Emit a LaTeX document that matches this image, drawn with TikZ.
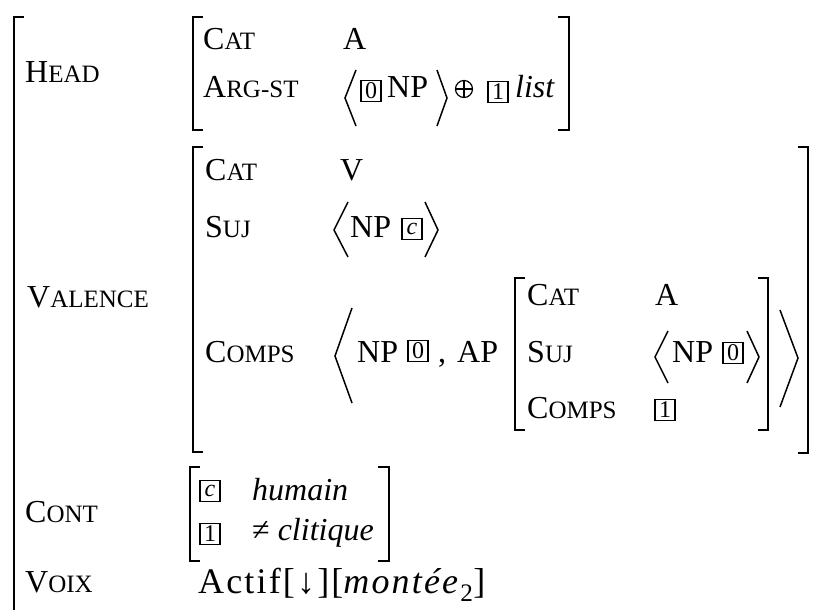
\documentclass[tikz,border=0pt]{standalone}
\usepackage{fontspec}
\setmainfont{Liberation Serif}
\newcommand\fsc[2]{#1{\fontsize{25}{25}\selectfont #2}}
\begin{document}
\begin{tikzpicture}[x=1pt,y=-1pt,
  brk/.style={line width=2.4pt},
  ang/.style={line width=1.5pt},
  lbl/.style={anchor=base west,inner sep=0pt,font=\fontsize{32}{32}\selectfont},
  tag/.style={draw,line width=1.3pt,inner sep=0pt,minimum width=20pt,minimum height=21pt,font=\fontsize{24}{24}\selectfont}]
\useasboundingbox[fill=white] (0,0) rectangle (819,610);
% outer bracket
\draw[brk] (24,17) -- (14,17) -- (14,612);
% HEAD
\node[lbl] (head) at (25,82) {\fsc{H}{EAD}};
\draw[brk] (203,17)--(193,17)--(193,130)--(203,130);
\draw[brk] (558,17)--(569,17)--(569,130)--(558,130);
\node[lbl] (hcat) at (203,50) {\fsc{C}{AT}};
\node[lbl] (hcatv) at (343,50) {A};
\node[lbl] (harg) at (203,97) {\fsc{A}{RG-ST}};
\draw[ang] (356,70)--(345,98)--(356,126);
\node[tag] (t0a) at (371,91) {0};
\node[lbl] (np1) at (387,97) {NP};
\draw[ang] (437,70)--(447,98)--(437,126);
\node[circle,draw,line width=1.2pt,minimum size=17pt,inner sep=0pt] (oplus) at (464,89) {};
\draw[line width=1.2pt] (oplus.north)--(oplus.south) (oplus.west)--(oplus.east);
\node[tag] (t1a) at (498,92) {1};
\node[lbl] (list) at (515,97) {\textit{list}};
% VALENCE
\node[lbl] (val) at (27,307) {\fsc{V}{ALENCE}};
\draw[brk] (203,147)--(193,147)--(193,452)--(203,452);
\draw[brk] (798,147)--(808,147)--(808,453)--(798,453);
\node[lbl] (vcat) at (205,180) {\fsc{C}{AT}};
\node[lbl] (vcatv) at (340,180) {V};
\node[lbl] (vsuj) at (205,237) {\fsc{S}{UJ}};
\draw[ang] (348,202)--(334,230)--(348,257);
\node[lbl] (np2) at (350,237) {NP};
\node[tag] (tc1) at (412,229) {\textit{c}};
\draw[ang] (425,202)--(438,230)--(425,257);
\node[lbl] (vcomps) at (205,362) {\fsc{C}{OMPS}};
\draw[ang] (352,308)--(335,356)--(352,403);
\node[lbl] (np3) at (357,362) {NP};
\node[tag] (t0b) at (418,351) {0};
\node[lbl] (comma) at (438,362) {,};
\node[lbl] (ap) at (457,362) {AP};
\draw[brk] (525,278)--(515,278)--(515,430)--(525,430);
\draw[brk] (758,278)--(768,278)--(768,430)--(758,430);
\node[lbl] (icat) at (527,305) {\fsc{C}{AT}};
\node[lbl] (icatv) at (655,305) {A};
\node[lbl] (isuj) at (527,362) {\fsc{S}{UJ}};
\draw[ang] (668,331)--(655,357)--(668,383);
\node[lbl] (np4) at (672,362) {NP};
\node[tag] (t0c) at (733,353) {0};
\draw[ang] (747,331)--(759,357)--(747,383);
\node[lbl] (icomps) at (527,418) {\fsc{C}{OMPS}};
\node[tag] (t1b) at (665,410) {1};
\draw[ang] (780,310)--(798,358)--(780,407);
% CONT
\node[lbl] (cont) at (25,522) {\fsc{C}{ONT}};
\draw[brk] (200,467)--(190,467)--(190,561)--(200,561);
\draw[brk] (378,467)--(389,467)--(389,561)--(378,561);
\node[tag] (tc2) at (210,491) {\textit{c}};
\node[lbl] (hum) at (252,500) {\textit{humain}};
\node[tag] (t1c) at (210,534) {1};
\node[lbl] (clit) at (252,540) {≠ \textit{clitique}};
% VOIX
\node[lbl] (voix) at (25,592) {\fsc{V}{OIX}};
\node[lbl,font=\fontsize{36}{36}\selectfont\addfontfeatures{LetterSpace=6}] (actif) at (198,593) {Actif[↓][\textit{montée}\textsubscript{2}]};
\end{tikzpicture}
\end{document}
